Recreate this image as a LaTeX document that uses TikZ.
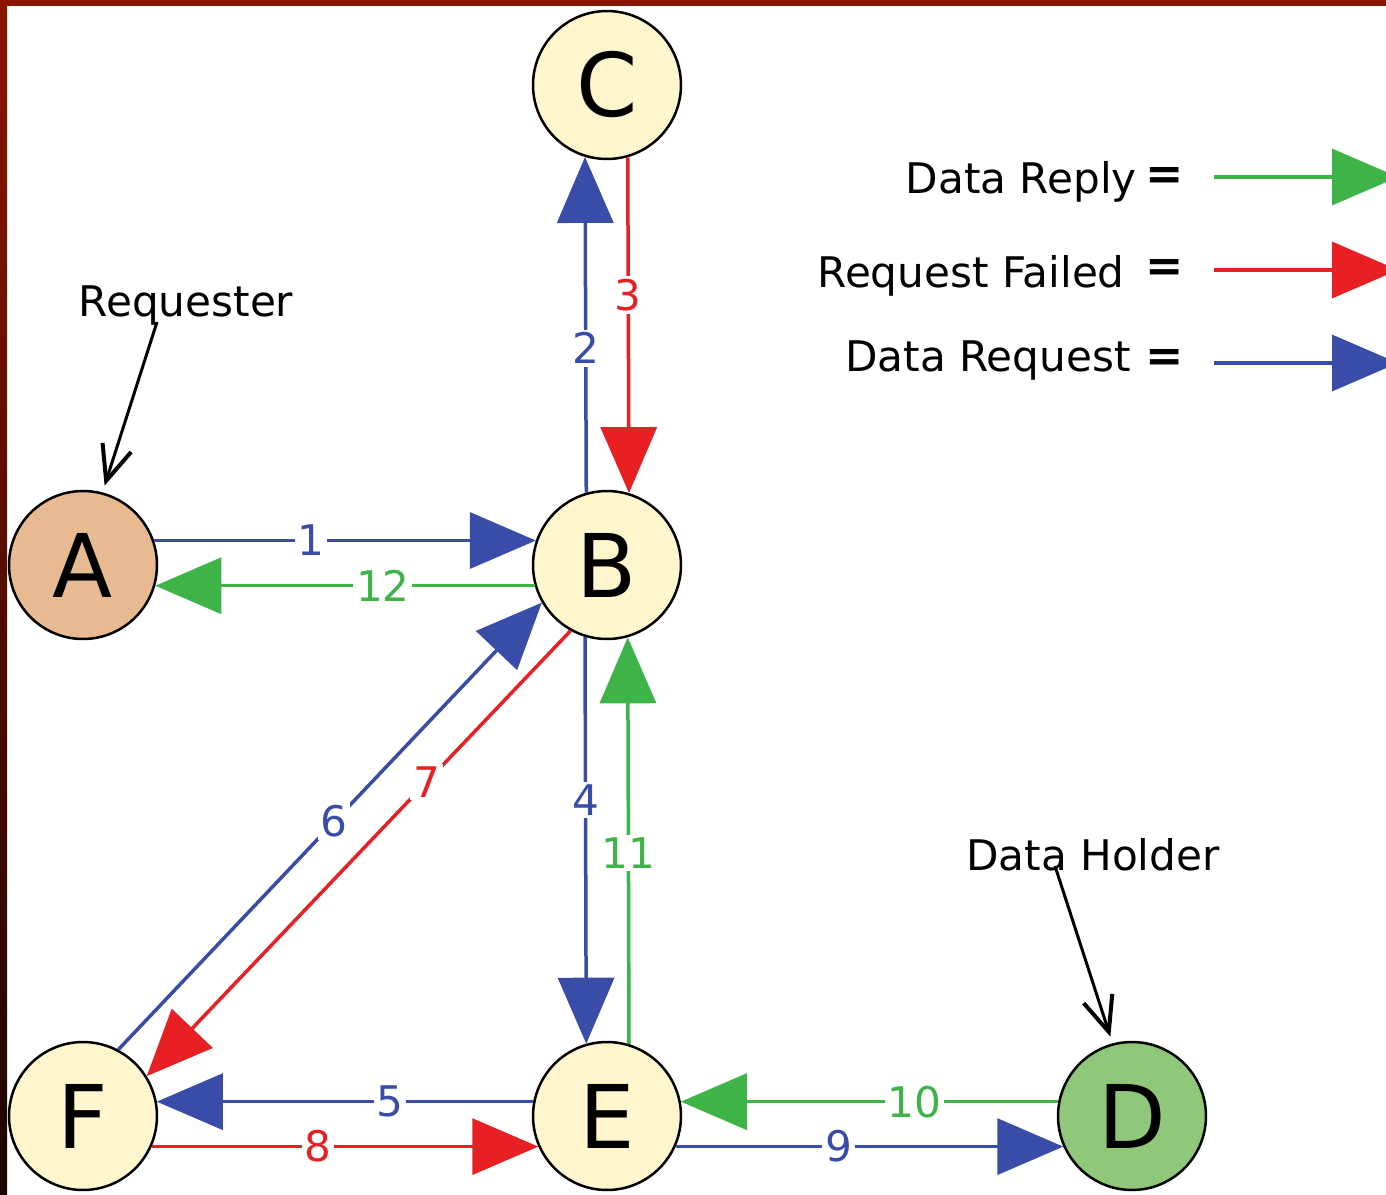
\documentclass[tikz,border=0pt]{standalone}
\usepackage{fontspec}
\setmainfont{DejaVu Sans}
\usetikzlibrary{arrows.meta}
\definecolor{reqblue}{RGB}{56,76,168}
\definecolor{replygreen}{RGB}{62,180,72}
\definecolor{failred}{RGB}{232,32,36}
\definecolor{peercream}{RGB}{255,246,206}
\definecolor{peertan}{RGB}{231,186,146}
\definecolor{peergreen}{RGB}{144,200,123}
\definecolor{framered}{RGB}{139,21,0}
\definecolor{framedark}{RGB}{28,5,0}
\tikzset{x=0.02cm,y=-0.02cm}
\tikzset{peer/.style={circle,draw=black,line width=0.05cm,fill=peercream,minimum size=2.96cm,inner sep=0pt,font=\fontsize{50}{50}\selectfont}}
\tikzset{flow/.style={line width=0.07cm,-{Triangle[length=1.32cm,width=1.12cm]}}}
\tikzset{num/.style={fill=white,inner sep=1.5pt,font=\fontsize{24}{24}\selectfont}}
\tikzset{note/.style={inner sep=0pt,font=\fontsize{24}{24}\selectfont}}
\tikzset{equals/.style={inner sep=0pt,font=\fontsize{26}{26}\selectfont\bfseries}}
\tikzset{pointer/.style={line width=0.06cm,shorten >=4pt,-{Straight Barb[length=0.7cm,width=0.6cm,line width=0.08cm]}}}

\begin{document}
\begin{tikzpicture}
        		\useasboundingbox[fill=white] (0,0) rectangle (1386,1194);
        		\fill[framered] (0,0) rectangle (1386,6);
        		\shade[top color=framered,bottom color=framedark] (0,0) rectangle (7,1194);

        		\node[peer] (C) at (607,85)    {C};
        		\node[peer,fill=peertan] (A) at (83,565)     {A};
        		\node[peer] (B) at (607,565)   {B};
        		\node[peer] (F) at (83,1116)   {F};
        		\node[peer] (E) at (607,1116)  {E};
        		\node[peer,fill=peergreen] (D) at (1132,1116) {D};

        		\path[flow]
        			(A.19)    edge[reqblue]    node[num,pos=.41] {1} (B.161)
        			(B.106.5) edge[reqblue]    node[num,pos=.43] {2} (C.253.5)
        			(C.286.5) edge[failred]    node[num,pos=.41] {3} (B.73.5)
        			(B.253.5) edge[reqblue]    node[num,pos=.40] {4} (E.106.5)
        			(E.169)   edge[reqblue]    node[num,pos=.38] {5} (F.11)
        			(F.62.5)  edge[reqblue]    node[num,pos=.51] {6} (B.210.5)
        			(B.241)   edge[failred]    node[num,pos=.34] {7} (F.32)
        			(F.-24)   edge[failred]    node[num,pos=.43] {8} (E.204)
        			(E.-24)   edge[reqblue]    node[num,pos=.42] {9} (D.204)
        			(D.169)   edge[replygreen] node[num,pos=.38] {10} (E.11)
        			(E.73.5)  edge[replygreen] node[num,pos=.47] {11} (B.286.5)
        			(B.196.5) edge[replygreen] node[num,pos=.40] {12} (A.-16.5);

        		\node[note,anchor=base] (req) at (186,316) {Requester};
        		\node[note,anchor=base] (holder) at (1093,870) {Data Holder};
        		\coordinate (reqtail) at (157,322);
        		\coordinate (holdertail) at (1055,866);
        		\draw[pointer] (reqtail) -- (A.75);
        		\draw[pointer] (holdertail) -- (D.105);

        		\node[note,anchor=base east] (lreply) at (1137,193) {Data Reply};
        		\node[note,anchor=base east] (lfail) at (1125,287) {Request Failed};
        		\node[note,anchor=base east] (lreq) at (1131,371) {Data Request};
        		\node[equals] (eqreply) at (1165,178) {=};
        		\node[equals] (eqfail) at (1165,270) {=};
        		\node[equals] (eqreq) at (1165,360) {=};
        		\coordinate (kreply) at (1214,177);
        		\coordinate (kfail) at (1214,270);
        		\coordinate (kreq) at (1214,363);
        		\coordinate (kreplyend) at (1398,177);
        		\coordinate (kfailend) at (1398,270);
        		\coordinate (kreqend) at (1398,363);
        		\draw[flow,replygreen] (kreply) -- (kreplyend);
        		\draw[flow,failred] (kfail) -- (kfailend);
        		\draw[flow,reqblue] (kreq) -- (kreqend);
        	\end{tikzpicture}
\end{document}
